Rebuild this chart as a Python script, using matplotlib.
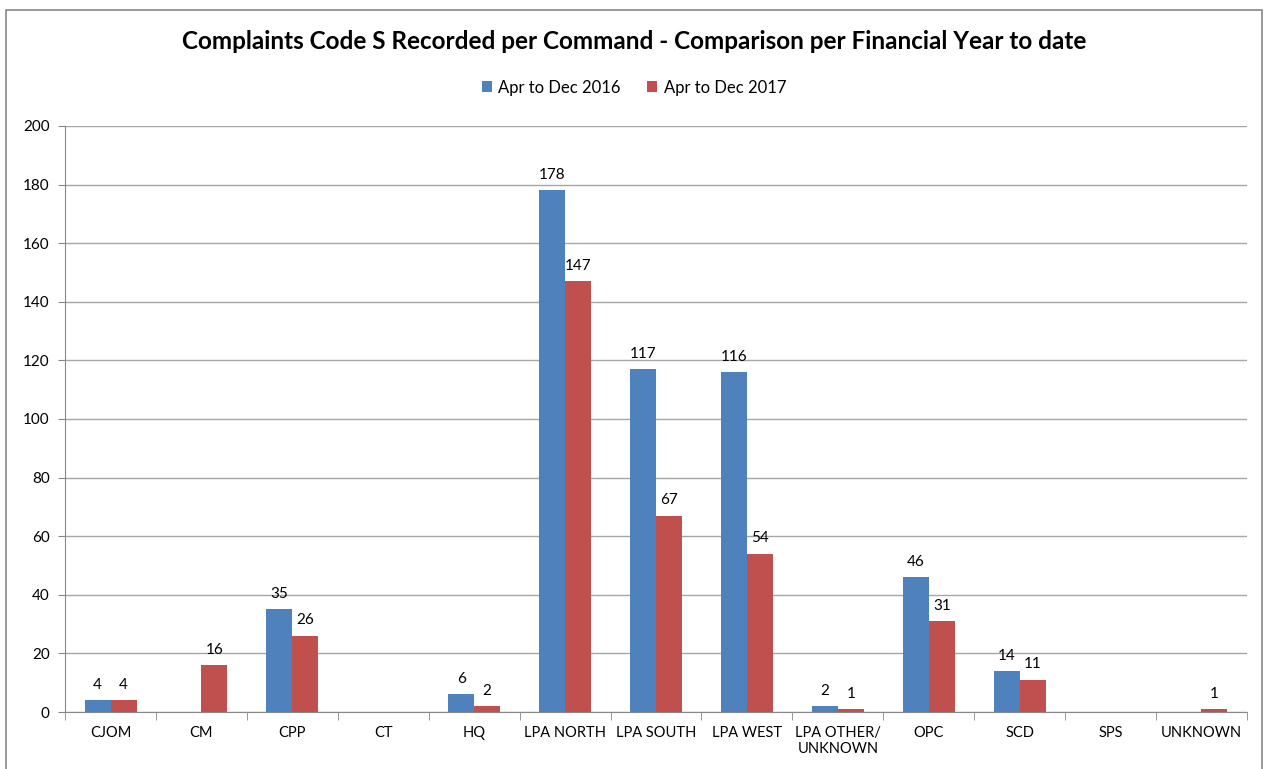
import numpy as np
import matplotlib
matplotlib.use('Agg')
import matplotlib.pyplot as plt
from matplotlib.patches import Rectangle

plt.rcParams['font.family'] = ['Lato', 'DejaVu Sans']

categories = ['CJOM', 'CM', 'CPP', 'CT', 'HQ', 'LPA NORTH', 'LPA SOUTH', 'LPA WEST',
              'LPA OTHER/\nUNKNOWN', 'OPC', 'SCD', 'SPS', 'UNKNOWN']
series_names = ['Apr to Dec 2016', 'Apr to Dec 2017']
vals_2016 = [4, 0, 35, 0, 6, 178, 117, 116, 2, 46, 14, 0, 0]
vals_2017 = [4, 16, 26, 0, 2, 147, 67, 54, 1, 31, 11, 0, 1]
colors = ['#4F81BD', '#C0504D']

fig = plt.figure(figsize=(12.68, 7.69), dpi=100)
ax = fig.add_axes([0.0513, 0.0741, 0.9321, 0.7621])

x = np.arange(len(categories))
w = 0.286
b1 = ax.bar(x - w / 2, vals_2016, w, color=colors[0], label=series_names[0])
b2 = ax.bar(x + w / 2, vals_2017, w, color=colors[1], label=series_names[1])

for bars, vals in ((b1, vals_2016), (b2, vals_2017)):
    for rect, v in zip(bars, vals):
        if v == 0:
            continue
        ax.annotate(str(v), (rect.get_x() + rect.get_width() / 2, v),
                    xytext=(0, 6), textcoords='offset points',
                    ha='center', va='bottom', fontsize=11)

ax.set_xlim(-0.5, len(categories) - 0.5)
ax.set_ylim(0, 200)
ax.set_yticks(np.arange(0, 201, 20))
ax.yaxis.grid(True, color='#A6A6A6', linewidth=1)
ax.set_axisbelow(True)

ax.set_xticks(x)
ax.set_xticklabels(categories, fontsize=10.5)
ax.tick_params(axis='x', length=0, pad=10)
ax.set_xticks(np.arange(-0.5, len(categories)), minor=True)
ax.tick_params(axis='x', which='minor', length=6, color='#888888', direction='out')
ax.tick_params(axis='y', labelsize=11, length=5, color='#888888', pad=6)

for s in ('top', 'right'):
    ax.spines[s].set_visible(False)
for s in ('left', 'bottom'):
    ax.spines[s].set_color('#888888')

fig.text(0.5, 0.946, 'Complaints Code S Recorded per Command - Comparison per Financial Year to date',
         ha='center', va='center', fontsize=17.5, fontweight='bold')
fig.legend(handles=[b1, b2], loc='center', bbox_to_anchor=(0.5, 0.886), ncol=2,
           frameon=False, fontsize=12, handlelength=0.6, handleheight=0.6,
           columnspacing=1.6, handletextpad=0.4)

fig.patches.append(Rectangle((0.005, -0.02), 0.99, 1.007, transform=fig.transFigure,
                             fill=False, edgecolor='#888888', linewidth=1.2))

fig.savefig('out.png', dpi=100)
